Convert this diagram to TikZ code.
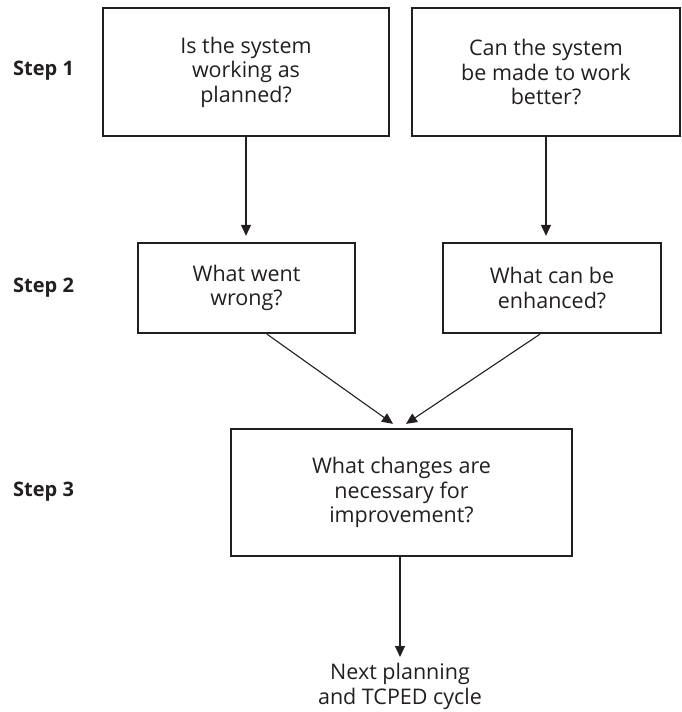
\documentclass[tikz,border=0pt]{standalone}
\usepackage{fontspec}
\setmainfont{Open Sans}
\usetikzlibrary{arrows.meta,calc}
\definecolor{ink}{HTML}{231F20}
\begin{document}
\begin{tikzpicture}[x=1pt,y=-1pt,
  every node/.style={text=ink, font=\fontsize{21.5}{24.5}\selectfont, align=center, inner sep=0pt},
  qbox/.style={draw=ink, line width=2.3pt},
  steplabel/.style={anchor=west, font=\fontsize{20}{24}\selectfont\bfseries},
  arr/.style={draw=ink, line width=1.1pt, -{Triangle[length=11pt,width=10pt]}}]
\useasboundingbox (0,0) rectangle (681,712);

% question boxes
\node[qbox, minimum width=286pt, minimum height=128pt] (sys) at (246,72)
  {Is the system\\working as\\planned?};
\node[qbox, minimum width=268pt, minimum height=128pt] (better) at (546,72)
  {Can the system\\be made to work\\better?};
\node[qbox, minimum width=217pt, minimum height=90pt] (wrong) at (246.5,288)
  {What went\\wrong?};
\node[qbox, minimum width=218pt, minimum height=90pt] (enh) at (552,288)
  {What can be\\enhanced?};
\node[qbox, minimum width=341pt, minimum height=127pt] (chg) at (401.5,492.5)
  {What changes are\\necessary for\\improvement?};
\node[anchor=north] (next) at (400,663) {Next planning\\and TCPED cycle};

% step labels
\node[steplabel] (s1) at (13,71) {Step 1};
\node[steplabel] (s2) at (13,288) {Step 2};
\node[steplabel] (s3) at (13,492) {Step 3};

% connectors
\coordinate (w1) at ($(wrong.south)+(20.5,0)$);
\coordinate (e1) at ($(enh.south)+(-12,0)$);
\coordinate (t1) at ($(chg.north)+(-8.5,-4)$);
\coordinate (t2) at ($(chg.north)+(4.5,-4)$);
\draw[arr, shorten >=6pt] (sys.south) -- (sys.south |- wrong.north);
\draw[arr, shorten >=6pt] (better.south) -- (better.south |- enh.north);
\draw[arr] (w1) -- (t1);
\draw[arr] (e1) -- (t2);
\draw[arr, shorten >=6pt] (chg.south -| next.north) -- (next.north);
\end{tikzpicture}
\end{document}
